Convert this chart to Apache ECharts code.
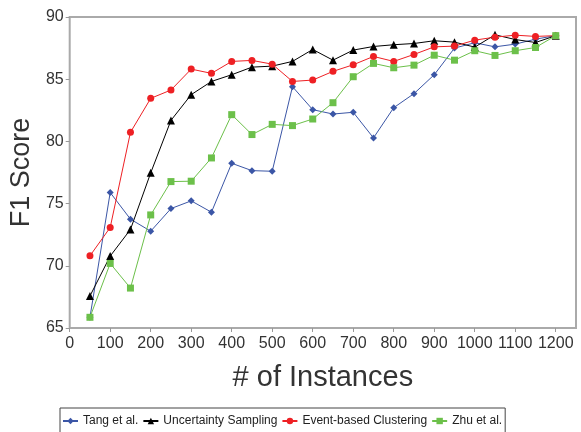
<!DOCTYPE html>
<html><head><meta charset="utf-8">
<script src="https://cdn.jsdelivr.net/npm/echarts@6/dist/echarts.min.js"></script>
<style>html,body{margin:0;padding:0;background:#fff}#c{width:581px;height:432px}</style>
</head><body><div id="c"></div>
<script>
const instances = [50,100,150,200,250,300,350,400,450,500,550,600,650,700,750,800,850,900,950,1000,1050,1100,1150,1200];
const tang = [65.86,75.89,73.75,72.78,74.6,75.22,74.31,78.24,77.65,77.6,84.4,82.55,82.2,82.34,80.28,82.71,83.84,85.36,87.5,87.93,87.6,87.82,88.22,88.5];
const uncertainty = [67.57,70.78,72.92,77.47,81.69,83.76,84.82,85.36,85.97,86.05,86.43,87.39,86.53,87.34,87.63,87.77,87.87,88.09,87.98,87.58,88.57,88.19,87.95,88.5];
const eventClustering = [70.8,73.08,80.73,83.46,84.13,85.81,85.47,86.43,86.51,86.21,84.82,84.93,85.63,86.16,86.83,86.43,86.99,87.6,87.66,88.14,88.38,88.54,88.44,88.5];
const zhu = [65.86,70.19,68.21,74.09,76.77,76.8,78.67,82.15,80.55,81.37,81.27,81.8,83.11,85.2,86.27,85.92,86.13,86.93,86.53,87.29,86.91,87.29,87.55,88.5];
const seriesNames = ['Tang et al.','Uncertainty Sampling','Event-based Clustering','Zhu et al.'];
const xTicks = [0,100,200,300,400,500,600,700,800,900,1000,1100,1200];

const pair = arr => instances.map((x,i)=>[x,arr[i]]);
const font = 'Helvetica, "Liberation Sans", Arial, sans-serif';
const mk = (name, data, color, symbol, size) => ({
  name, type:'line', data: pair(data), symbol, symbolSize:size,
  lineStyle:{color, width:1}, itemStyle:{color}, color, animation:false
});
const chart = echarts.init(document.getElementById('c'), null, {renderer:'canvas'});
chart.setOption({
  backgroundColor:'#fff',
  animation:false,
  grid:{left:66, right:5, top:17, bottom:104, show:true, borderColor:'#aaa', borderWidth:2},
  xAxis:{type:'value', min:0, max:1250, interval:100,
    name:'# of Instances', nameLocation:'middle', nameGap:35,
    nameTextStyle:{fontSize:29, color:'#333', fontFamily:font},
    axisLine:{show:false}, splitLine:{show:false},
    axisTick:{show:true, length:4, lineStyle:{color:'#999'}, customValues:xTicks},
    axisLabel:{fontSize:16, color:'#333', fontFamily:font, margin:8, customValues:xTicks,
      formatter: v => String(v)}
  },
  yAxis:{type:'value', min:65, max:90, interval:5,
    name:'F1 Score', nameLocation:'middle', nameGap:34,
    nameTextStyle:{fontSize:27, color:'#333', fontFamily:font},
    axisLine:{show:false}, splitLine:{show:false},
    axisTick:{show:true, length:4, lineStyle:{color:'#999'}},
    axisLabel:{fontSize:16, color:'#333', fontFamily:font, margin:6}
  },
  legend:{top:408, left:60, itemWidth:15, itemHeight:8, itemGap:4,
    borderColor:'#444', borderWidth:1, padding:[7,3,12,2],
    textStyle:{fontSize:12, color:'#222', fontFamily:font}, data:seriesNames},
  series:[
    mk(seriesNames[0], tang, '#3b56a6', 'diamond', 7),
    mk(seriesNames[1], uncertainty, '#000000', 'triangle', 8),
    mk(seriesNames[2], eventClustering, '#ee2024', 'circle', 7),
    mk(seriesNames[3], zhu, '#6cc04a', 'rect', 7)
  ]
});
</script></body></html>
